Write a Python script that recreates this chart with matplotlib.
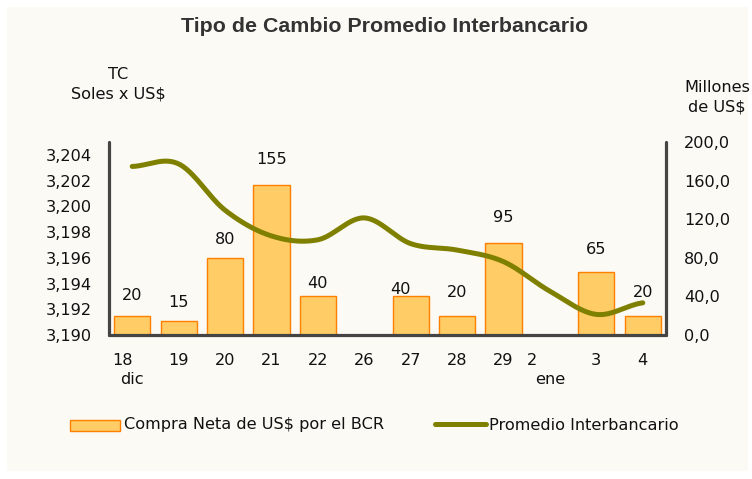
import numpy as np
import matplotlib
matplotlib.use("Agg")
import matplotlib.pyplot as plt
from matplotlib.patches import Rectangle
from matplotlib.lines import Line2D
from matplotlib.transforms import ScaledTranslation

plt.rcParams['font.family'] = ['DejaVu Sans']

# ---- data --------------------------------------------------------------
dias = ['18', '19', '20', '21', '22', '26', '27', '28', '29', '2', '3', '4']
meses = ['dic', '', '', '', '', '', '', '', '', 'ene', '', '']
compra = [20, 15, 80, 155, 40, 0, 40, 20, 95, 0, 65, 20]
compra_txt = ['20', '15', '80', '155', '40', '', '40', '20', '95', '', '65', '20']
tc = [3.2031, 3.2033, 3.1997, 3.1977, 3.1974, 3.1991, 3.1971, 3.1966,
      3.1957, 3.1934, 3.1916, 3.1925]

# label offsets (pixels) as in the original
lab_dy = [20, 18, 18, 26, 13, 0, 7, 23, 26, 0, 23, 23]
lab_dx = [0, 0, 0, 0, 0, 0, -10, 0, 0, 0, 0, 0]

BG = '#FBFAF5'
AX_COL = '#444444'
TXT = '#111111'
FS = 11.6


def catmull(y, n=30):
    # smooth line like excel's "smoothed line"
    p = np.concatenate([[y[0]], y, [y[-1]]])
    xs, ys = [], []
    for i in range(1, len(p) - 2):
        t = np.linspace(0, 1, n, endpoint=False)
        p0, p1, p2, p3 = p[i - 1], p[i], p[i + 1], p[i + 2]
        yy = 0.5 * ((2 * p1) + (-p0 + p2) * t + (2 * p0 - 5 * p1 + 4 * p2 - p3) * t ** 2
                    + (-p0 + 3 * p1 - 3 * p2 + p3) * t ** 3)
        xs.append(i - 1 + t)
        ys.append(yy)
    xs.append([len(y) - 1])
    ys.append([y[-1]])
    return np.concatenate(xs), np.concatenate(ys)


W, H = 752, 479
fig = plt.figure(figsize=(W / 100, H / 100), dpi=100, facecolor='white')
fig.add_artist(Rectangle((7 / W, 8 / H), 741 / W, 464 / H, transform=fig.transFigure,
                         facecolor=BG, edgecolor='none', zorder=-10))

ax = fig.add_axes([109 / W, 1 - 335 / H, 557 / W, 193 / H])
ax.patch.set_visible(False)
x = np.arange(len(dias))

ax.bar(x, compra, width=0.78, color='#FFCC66', edgecolor='#FF7F00', linewidth=1, zorder=2)
for i, (v, s) in enumerate(zip(compra, compra_txt)):
    if s:
        ax.annotate(s, (x[i], v), xytext=(lab_dx[i] * 0.72, lab_dy[i] * 0.72),
                    textcoords='offset points', ha='center', va='center',
                    fontsize=FS, color=TXT)

ax.set_xlim(-0.5, len(dias) - 0.5)
ax.set_ylim(0, 200)
ax.set_xticks(x)
ax.set_xticklabels(dias)
ax.tick_params(axis='x', length=0, pad=12.7, labelsize=FS, labelcolor=TXT)
for lbl, d in zip(ax.get_xticklabels(), dias):
    if d == '18':
        lbl.set_transform(lbl.get_transform() + ScaledTranslation(-10 / 100, 0, fig.dpi_scale_trans))
    if d == '2':
        lbl.set_transform(lbl.get_transform() + ScaledTranslation(-18 / 100, 0, fig.dpi_scale_trans))
for i, m in enumerate(meses):
    if m:
        ax.text(x[i], -45 / 193, m, transform=ax.get_xaxis_transform(), ha='center',
                va='center', fontsize=FS, color=TXT)

for s in ['left', 'right', 'bottom']:
    ax.spines[s].set_color(AX_COL)
    ax.spines[s].set_linewidth(2.3)
    ax.spines[s].set_capstyle('round')
ax.spines['top'].set_visible(False)

ax2 = ax.twinx()
xs, ys = catmull(np.array(tc))
ax2.plot(xs, ys, color='#808000', linewidth=3.6, solid_capstyle='round', zorder=3)
ax2.set_ylim(3.190, 3.205)
ticks_l = np.arange(3.190, 3.2041, 0.002)
ax2.set_yticks(ticks_l)
ax2.set_yticklabels([f'{v:.3f}'.replace('.', ',') for v in ticks_l])
ax2.yaxis.tick_left()
ax2.tick_params(axis='y', length=0, pad=12, labelsize=FS, labelcolor=TXT)
for s in ax2.spines.values():
    s.set_visible(False)

# right axis (bars) after twinx, which resets it to the left
ticks_r = np.arange(0, 201, 40)
ax.set_yticks(ticks_r)
ax.set_yticklabels([f'{v:.1f}'.replace('.', ',') for v in ticks_r])
ax.yaxis.tick_right()
ax.tick_params(axis='y', length=0, pad=13, labelsize=FS, labelcolor=TXT)

# titles
fig.text(385 / W, 1 - 27 / H, 'Tipo de Cambio Promedio Interbancario', ha='center', va='center',
         fontsize=15.4, fontweight='bold', family='Liberation Sans', color='#333333')
fig.text(118 / W, 1 - 84 / H, 'TC\nSoles x US$', ha='center', va='center', fontsize=FS,
         color=TXT, linespacing=1.4)
fig.text(717 / W, 1 - 97 / H, 'Millones\nde US$', ha='center', va='center', fontsize=FS,
         color=TXT, linespacing=1.4)

# legend
fig.add_artist(Rectangle((70 / W, 1 - 431 / H), 50 / W, 11 / H, transform=fig.transFigure,
                         facecolor='#FFCC66', edgecolor='#FF7F00', linewidth=1))
fig.text(124 / W, 1 - 425 / H, 'Compra Neta de US$ por el BCR', ha='left', va='center',
         fontsize=FS, color=TXT)
fig.add_artist(Line2D([435 / W, 486 / W], [1 - 424 / H, 1 - 424 / H], transform=fig.transFigure,
                      color='#808000', linewidth=3.6, solid_capstyle='round'))
fig.text(489 / W, 1 - 425 / H, 'Promedio Interbancario', ha='left', va='center',
         fontsize=FS, color=TXT)

fig.savefig('out.png', dpi=100, facecolor='white')
